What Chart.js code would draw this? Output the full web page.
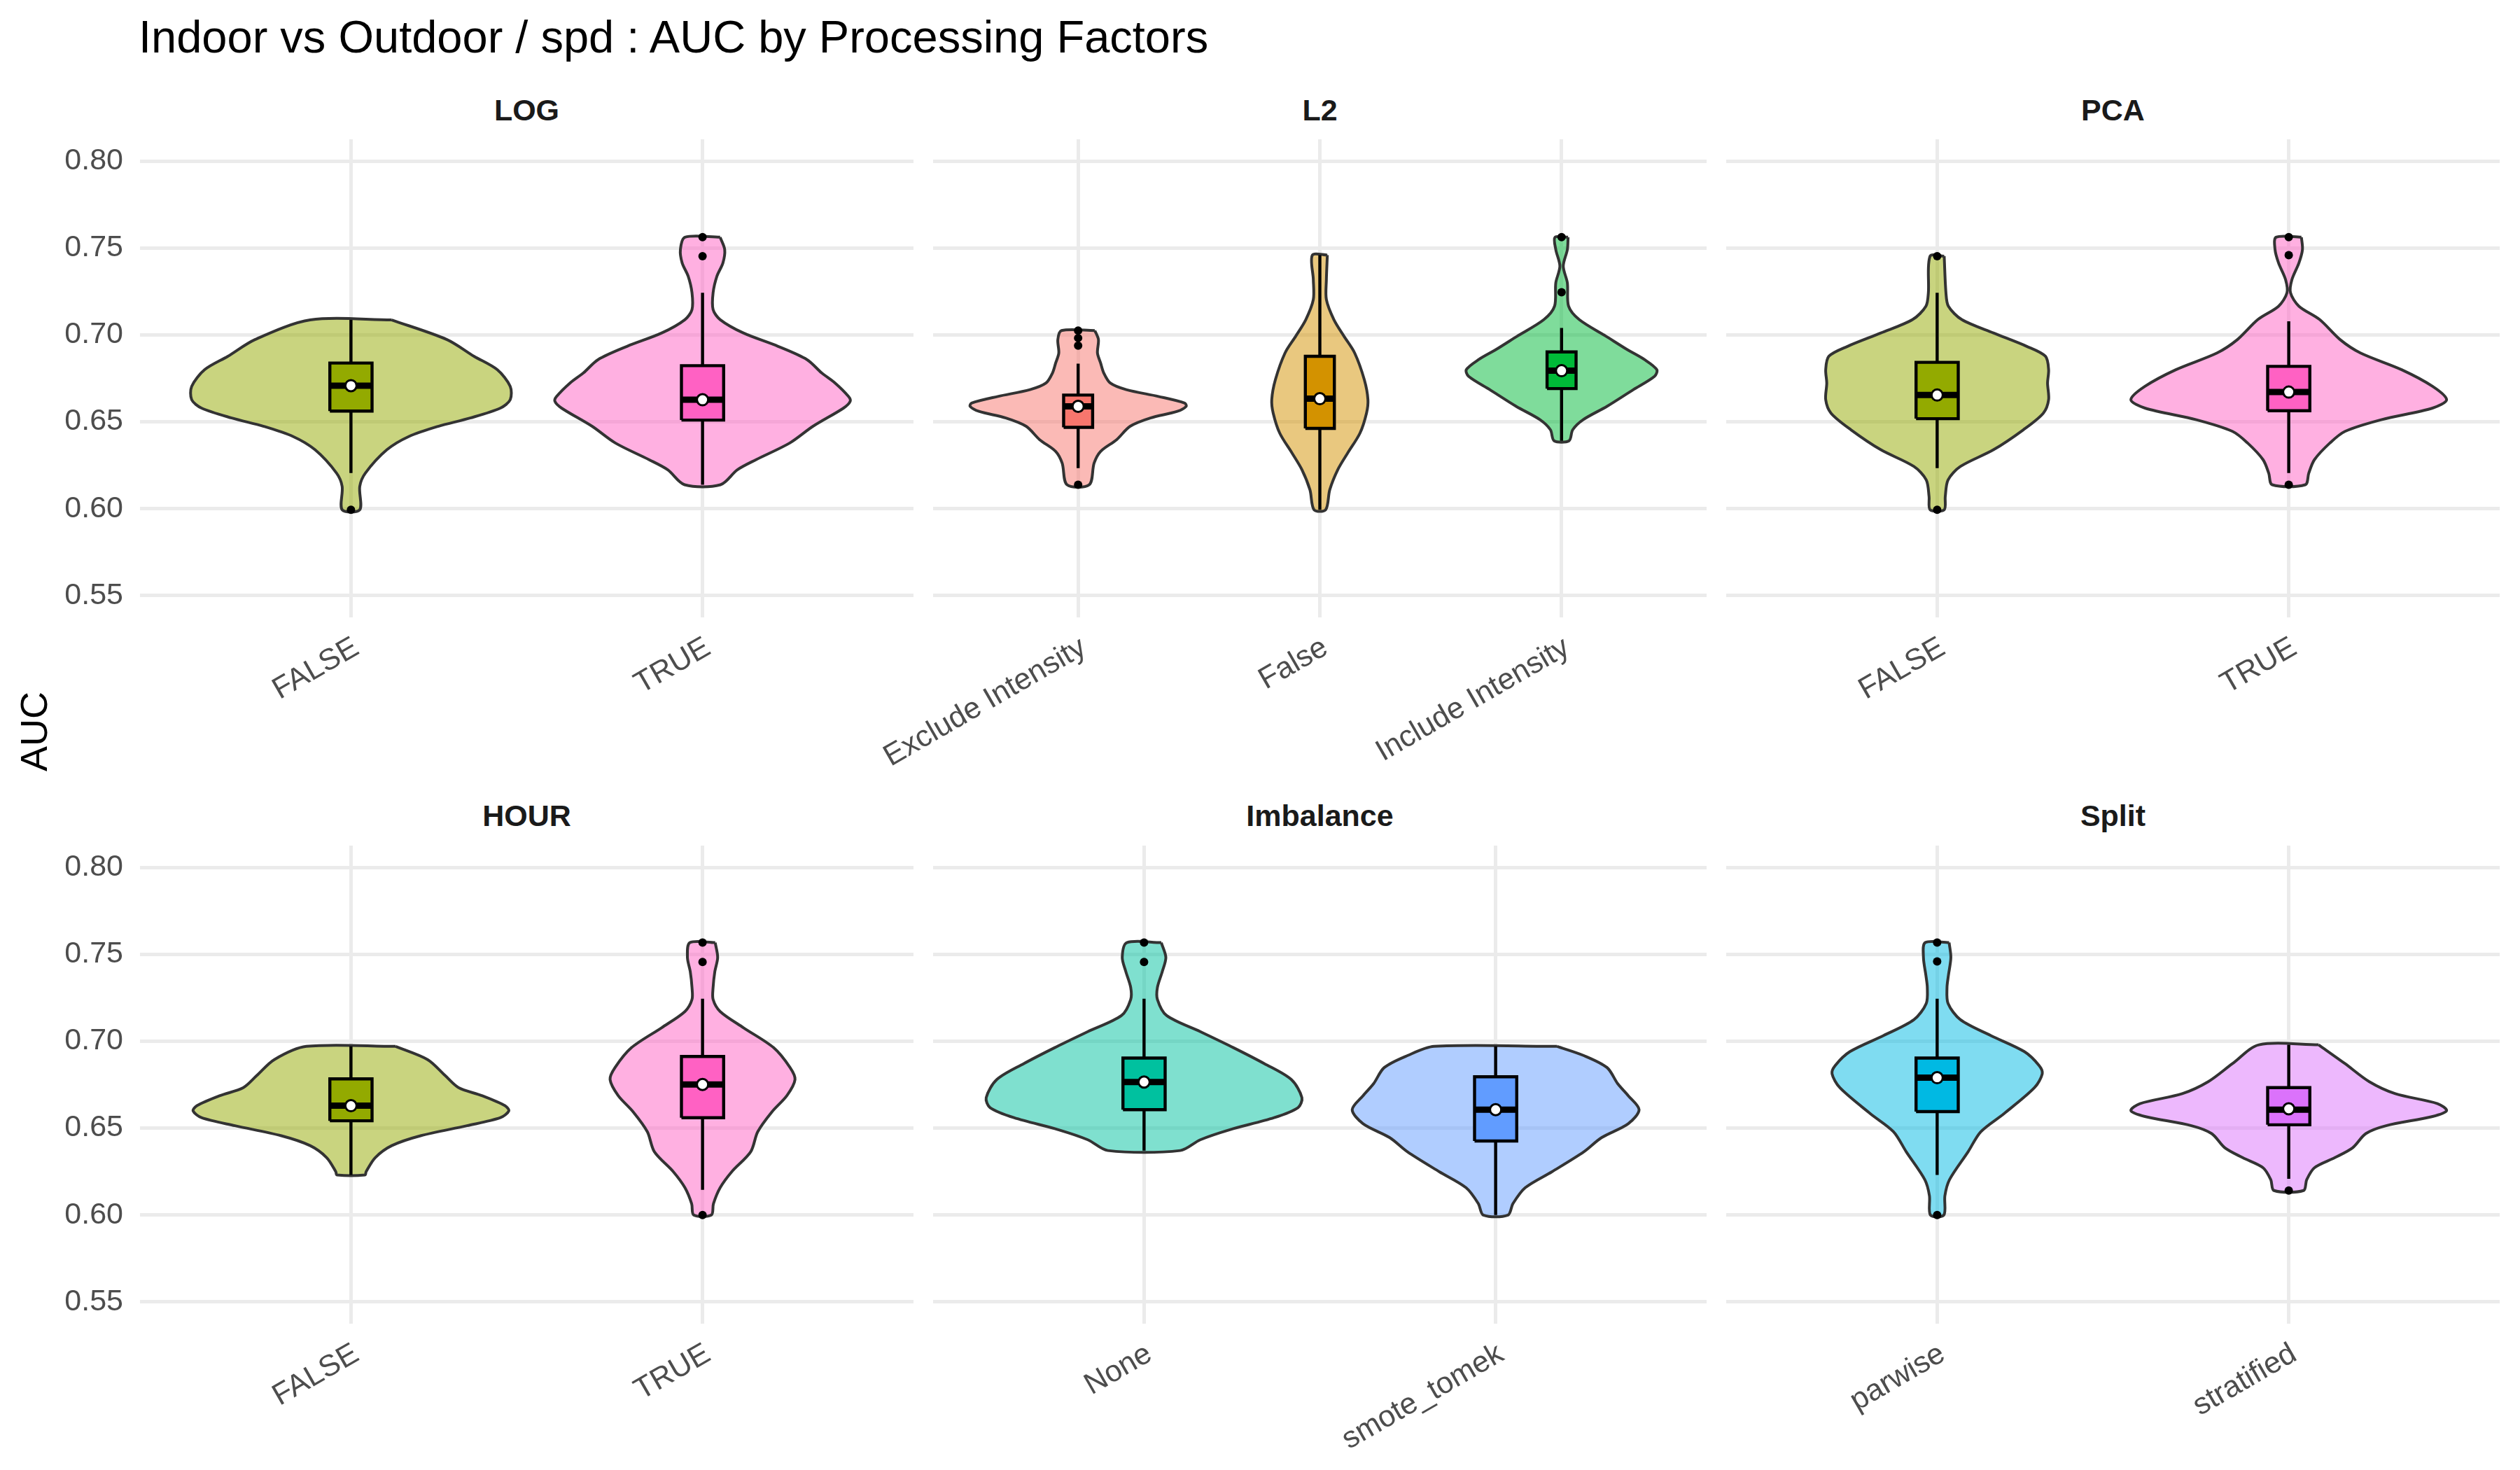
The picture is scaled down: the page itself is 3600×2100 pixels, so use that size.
<!DOCTYPE html>
<html>
<head>
<meta charset="utf-8">
<script src="https://cdn.jsdelivr.net/npm/chart.js@4.4.1/dist/chart.umd.min.js"></script>
<style>
html, body { margin: 0; padding: 0; background: #ffffff; }
body { width: 3600px; height: 2100px; position: relative; overflow: hidden;
       font-family: "Liberation Sans", Arial, Helvetica, sans-serif; }
canvas { position: absolute; }
.title { position: absolute; left: 198px; top: 20px; font-size: 65px; line-height: 65px;
         color: #000000; white-space: nowrap; z-index: 5; }
.strip { position: absolute; font-size: 43px; line-height: 43px; font-weight: bold;
         color: #1A1A1A; text-align: center; white-space: nowrap; width: 600px; z-index: 5; }
.ylab { position: absolute; font-size: 54px; line-height: 54px; color: #000000;
        white-space: nowrap; width: 200px; text-align: center; z-index: 5;
        transform: rotate(-90deg); transform-origin: 50% 50%; }
</style>
</head>
<body>
<div class="title">Indoor vs Outdoor / spd : AUC by Processing Factors</div>
<div class="ylab" id="ylab">AUC</div>
<script>
// ---------------- DATA ----------------
const FACETS = ['LOG', 'L2', 'PCA', 'HOUR', 'Imbalance', 'Split'];
const FACET_LEVELS = [
  ['FALSE', 'TRUE'],
  ['Exclude Intensity', 'False', 'Include Intensity'],
  ['FALSE', 'TRUE'],
  ['FALSE', 'TRUE'],
  ['None', 'smote_tomek'],
  ['parwise', 'stratified']
];
const LEVEL_NAMES  = ['Exclude Intensity', 'False', 'FALSE', 'Include Intensity', 'None', 'parwise', 'smote_tomek', 'stratified', 'TRUE'];
const LEVEL_COLORS = ['#F8766D', '#D39200', '#93AA00', '#00BA38', '#00C19F', '#00B9E3', '#619CFF', '#DB72FB', '#FF61C3'];
const Y_TICKS = [0.55, 0.60, 0.65, 0.70, 0.75, 0.80];
const Y_TICK_LABELS = ['0.55', '0.60', '0.65', '0.70', '0.75', '0.80'];

// box-plot statistics per facet (in level order)
const WHISKER_LOW  = [[0.6205, 0.6138], [0.6234, 0.5994, 0.6391], [0.6234, 0.6205], [0.6231, 0.6145], [0.6371, 0.6000], [0.6231, 0.6208]];
const Q1           = [[0.6562, 0.6510], [0.6468, 0.6462, 0.6691], [0.6518, 0.6564], [0.6542, 0.6560], [0.6606, 0.6426], [0.6595, 0.6519]];
const MEDIAN       = [[0.6708, 0.6627], [0.6589, 0.6633, 0.6794], [0.6654, 0.6671], [0.6629, 0.6751], [0.6765, 0.6606], [0.6790, 0.6606]];
const Q3           = [[0.6838, 0.6823], [0.6654, 0.6877, 0.6902], [0.6842, 0.6819], [0.6783, 0.6912], [0.6903, 0.6795], [0.6903, 0.6733]];
const WHISKER_HIGH = [[0.7086, 0.7242], [0.6835, 0.7459, 0.7040], [0.7242, 0.7078], [0.6970, 0.7244], [0.7244, 0.6970], [0.7244, 0.6979]];
const MEAN         = [[0.6708, 0.6627], [0.6589, 0.6633, 0.6794], [0.6654, 0.6671], [0.6629, 0.6751], [0.6765, 0.6606], [0.6790, 0.6611]];
const OUTLIERS = [
  [[0.5994], [0.7562, 0.7453]],
  [[0.7025, 0.6982, 0.6938, 0.6138], [], [0.7562, 0.7245]],
  [[0.7453, 0.5994], [0.7562, 0.7459, 0.6138]],
  [[], [0.7567, 0.7456, 0.6000]],
  [[0.7567, 0.7456], []],
  [[0.7567, 0.7459, 0.6000], [0.6141]]
];

// violin outlines: [AUC, half-width in category units], top to bottom
const VIOLIN_LOG_FALSE = [[0.7086,0.116],[0.6973,0.273],[0.6877,0.350],[0.6800,0.416],[0.6704,0.453],[0.6627,0.453],[0.6579,0.425],[0.6522,0.339],[0.6474,0.248],[0.6416,0.165],[0.6339,0.102],[0.6205,0.041],[0.6128,0.025],[0.5994,0.025]];
const VIOLIN_LOG_TRUE = [[0.7562,0.050],[0.7491,0.063],[0.7414,0.058],[0.7338,0.041],[0.7242,0.030],[0.7146,0.030],[0.7088,0.050],[0.7011,0.116],[0.6934,0.215],[0.6858,0.297],[0.6781,0.339],[0.6723,0.377],[0.6646,0.415],[0.6618,0.420],[0.6579,0.401],[0.6474,0.314],[0.6378,0.248],[0.6282,0.152],[0.6224,0.099],[0.6138,0.051]];
const VIOLIN_L2_EXCLUDE = [[0.7025,0.069],[0.6973,0.084],[0.6896,0.080],[0.6838,0.093],[0.6781,0.106],[0.6723,0.133],[0.6685,0.199],[0.6646,0.332],[0.6608,0.441],[0.6589,0.447],[0.6560,0.410],[0.6522,0.299],[0.6474,0.215],[0.6397,0.159],[0.6330,0.093],[0.6262,0.066],[0.6138,0.046]];
const VIOLIN_L2_FALSE = [[0.7459,0.031],[0.7318,0.027],[0.7203,0.027],[0.7088,0.058],[0.6992,0.100],[0.6896,0.144],[0.6742,0.184],[0.6627,0.199],[0.6550,0.193],[0.6435,0.166],[0.6320,0.115],[0.6224,0.074],[0.6109,0.041],[0.5994,0.024]];
const VIOLIN_L2_INCLUDE = [[0.7562,0.027],[0.7491,0.024],[0.7395,0.007],[0.7299,0.024],[0.7165,0.029],[0.7088,0.073],[0.6992,0.184],[0.6915,0.272],[0.6858,0.343],[0.6800,0.394],[0.6762,0.385],[0.6685,0.297],[0.6589,0.188],[0.6512,0.089],[0.6454,0.046],[0.6391,0.031]];
const VIOLIN_PCA_FALSE = [[0.7453,0.020],[0.7242,0.025],[0.7165,0.032],[0.7088,0.070],[0.7011,0.160],[0.6934,0.255],[0.6877,0.308],[0.6800,0.317],[0.6723,0.314],[0.6627,0.317],[0.6550,0.302],[0.6454,0.245],[0.6339,0.160],[0.6243,0.066],[0.6166,0.031],[0.6070,0.023],[0.5994,0.020]];
const VIOLIN_PCA_TRUE = [[0.7562,0.036],[0.7491,0.039],[0.7414,0.029],[0.7318,0.009],[0.7242,0.005],[0.7165,0.029],[0.7088,0.088],[0.6973,0.146],[0.6896,0.204],[0.6800,0.321],[0.6704,0.409],[0.6627,0.449],[0.6579,0.409],[0.6512,0.263],[0.6445,0.160],[0.6378,0.117],[0.6282,0.073],[0.6205,0.057],[0.6138,0.047]];
const VIOLIN_HOUR_FALSE = [[0.6970,0.127],[0.6894,0.218],[0.6802,0.268],[0.6733,0.306],[0.6687,0.372],[0.6629,0.438],[0.6599,0.449],[0.6560,0.425],[0.6514,0.330],[0.6456,0.198],[0.6399,0.116],[0.6330,0.069],[0.6249,0.043],[0.6231,0.040]];
const VIOLIN_HOUR_TRUE = [[0.7567,0.036],[0.7482,0.043],[0.7401,0.035],[0.7309,0.030],[0.7240,0.030],[0.7171,0.050],[0.7078,0.116],[0.6963,0.202],[0.6848,0.249],[0.6779,0.263],[0.6687,0.240],[0.6595,0.198],[0.6479,0.157],[0.6364,0.137],[0.6249,0.083],[0.6157,0.050],[0.6065,0.031],[0.6000,0.025]];
const VIOLIN_IMB_NONE = [[0.7567,0.049],[0.7482,0.062],[0.7401,0.052],[0.7309,0.038],[0.7240,0.038],[0.7148,0.064],[0.7055,0.160],[0.6963,0.254],[0.6871,0.342],[0.6779,0.419],[0.6675,0.449],[0.6618,0.438],[0.6560,0.370],[0.6491,0.244],[0.6433,0.160],[0.6371,0.103]];
const VIOLIN_IMB_SMOTE = [[0.6970,0.175],[0.6917,0.251],[0.6848,0.317],[0.6756,0.347],[0.6687,0.377],[0.6606,0.408],[0.6525,0.377],[0.6445,0.301],[0.6364,0.251],[0.6249,0.160],[0.6157,0.084],[0.6065,0.049],[0.6000,0.035]];
const VIOLIN_SPLIT_PARWISE = [[0.7567,0.034],[0.7482,0.039],[0.7378,0.032],[0.7309,0.028],[0.7217,0.031],[0.7124,0.066],[0.7032,0.153],[0.6940,0.248],[0.6860,0.290],[0.6813,0.299],[0.6733,0.277],[0.6583,0.190],[0.6479,0.124],[0.6364,0.088],[0.6203,0.035],[0.6111,0.022],[0.6000,0.019]];
const VIOLIN_SPLIT_STRATIFIED = [[0.6979,0.085],[0.6871,0.160],[0.6767,0.229],[0.6698,0.303],[0.6641,0.423],[0.6601,0.449],[0.6567,0.409],[0.6514,0.277],[0.6468,0.219],[0.6387,0.182],[0.6330,0.131],[0.6272,0.073],[0.6203,0.051],[0.6141,0.042]];

const VIOLINS = [
  [VIOLIN_LOG_FALSE, VIOLIN_LOG_TRUE],
  [VIOLIN_L2_EXCLUDE, VIOLIN_L2_FALSE, VIOLIN_L2_INCLUDE],
  [VIOLIN_PCA_FALSE, VIOLIN_PCA_TRUE],
  [VIOLIN_HOUR_FALSE, VIOLIN_HOUR_TRUE],
  [VIOLIN_IMB_NONE, VIOLIN_IMB_SMOTE],
  [VIOLIN_SPLIT_PARWISE, VIOLIN_SPLIT_STRATIFIED]
];

// ---------------- LAYOUT / STYLE ----------------
const FONT = '"Liberation Sans", Arial, Helvetica, sans-serif';
const PANEL_X = [200, 1333, 2466];
const PANEL_W = 1105;
const ROW_TOP = [198, 1207];
const PANEL_H = 684;
const AXIS_W = 200;
const PAD_TOP = 10;
const PAD_RIGHT = 20;
const X_AXIS_H = [218, 209];
const Y_MIN = 0.5375, Y_MAX = 0.8125;
const BOX_HALF = 0.06;
const STRIP_BASELINE = [172, 1180];

function withAlpha(hex, a) {
  const r = parseInt(hex.slice(1, 3), 16), g = parseInt(hex.slice(3, 5), 16), b = parseInt(hex.slice(5, 7), 16);
  return 'rgba(' + r + ',' + g + ',' + b + ',' + a + ')';
}

function buildDatasets(fi) {
  const ds = [];
  FACET_LEVELS[fi].forEach((lvl, i) => {
    const c = i + 1;
    const color = LEVEL_COLORS[LEVEL_NAMES.indexOf(lvl)];
    const prof = VIOLINS[fi][i];
    const rightSide = prof.map(p => ({ x: c + p[1], y: p[0] }));
    const leftSide = prof.slice().reverse().map(p => ({ x: c - p[1], y: p[0] }));
    const poly = rightSide.concat(leftSide);
    poly.push(rightSide[0]);
    ds.push({ data: poly, fill: 'shape', backgroundColor: withAlpha(color, 0.5),
      borderColor: '#333333', borderWidth: 4, pointRadius: 0, tension: 0.3, order: 10 });
    // whiskers
    ds.push({ data: [{ x: c, y: WHISKER_HIGH[fi][i] }, { x: c, y: Q3[fi][i] }],
      borderColor: '#000000', borderWidth: 4.4, pointRadius: 0, fill: false, order: 8 });
    ds.push({ data: [{ x: c, y: Q1[fi][i] }, { x: c, y: WHISKER_LOW[fi][i] }],
      borderColor: '#000000', borderWidth: 4.4, pointRadius: 0, fill: false, order: 8 });
    // box
    ds.push({ data: [
        { x: c - BOX_HALF, y: Q1[fi][i] }, { x: c + BOX_HALF, y: Q1[fi][i] },
        { x: c + BOX_HALF, y: Q3[fi][i] }, { x: c - BOX_HALF, y: Q3[fi][i] },
        { x: c - BOX_HALF, y: Q1[fi][i] }],
      fill: 'shape', backgroundColor: color, borderColor: '#000000', borderWidth: 4.4,
      borderJoinStyle: 'miter', pointRadius: 0, tension: 0, order: 7 });
    // median
    ds.push({ data: [{ x: c - BOX_HALF, y: MEDIAN[fi][i] }, { x: c + BOX_HALF, y: MEDIAN[fi][i] }],
      borderColor: '#000000', borderWidth: 9, borderCapStyle: 'butt', pointRadius: 0, fill: false, order: 6 });
    // outliers
    ds.push({ data: OUTLIERS[fi][i].map(v => ({ x: c, y: v })), showLine: false,
      pointRadius: 6, pointBackgroundColor: '#000000', pointBorderWidth: 0, order: 5 });
    // mean
    ds.push({ data: [{ x: c, y: MEAN[fi][i] }], showLine: false,
      pointRadius: 8, pointBackgroundColor: '#FFFFFF', pointBorderColor: '#000000', pointBorderWidth: 3, order: 4 });
  });
  return ds;
}

function makeChart(fi) {
  const col = fi % 3, row = Math.floor(fi / 3);
  const levels = FACET_LEVELS[fi];
  const n = levels.length;
  const canvas = document.createElement('canvas');
  const left = PANEL_X[col] - AXIS_W;
  const top = ROW_TOP[row] - PAD_TOP;
  const width = AXIS_W + PANEL_W + PAD_RIGHT;
  const height = PAD_TOP + PANEL_H + X_AXIS_H[row];
  canvas.width = width; canvas.height = height;
  canvas.style.left = left + 'px'; canvas.style.top = top + 'px';
  canvas.style.width = width + 'px'; canvas.style.height = height + 'px';
  document.body.appendChild(canvas);

  // strip label
  const strip = document.createElement('div');
  strip.className = 'strip';
  strip.textContent = FACETS[fi];
  strip.style.left = (PANEL_X[col] + PANEL_W / 2 - 300) + 'px';
  strip.style.top = (STRIP_BASELINE[row] - 36.4) + 'px';
  document.body.appendChild(strip);

  new Chart(canvas, {
    type: 'line',
    data: { datasets: buildDatasets(fi) },
    options: {
      responsive: false, animation: false, devicePixelRatio: 1,
      layout: { padding: { left: 0, right: PAD_RIGHT, top: PAD_TOP, bottom: 0 } },
      plugins: { legend: { display: false }, tooltip: { enabled: false }, title: { display: false } },
      scales: {
        x: {
          type: 'linear', min: 0.4, max: n + 0.6,
          afterBuildTicks: s => { s.ticks = levels.map((l, i) => ({ value: i + 1 })); },
          afterFit: s => { s.height = X_AXIS_H[row]; s.paddingLeft = 0; s.paddingRight = 0; },
          ticks: { autoSkip: false, minRotation: 30, maxRotation: 30, padding: 18, labelOffset: 8,
                   color: '#4D4D4D', font: { family: FONT, size: 43 },
                   callback: (v, i) => levels[i] },
          grid: { color: '#EBEBEB', lineWidth: 5, drawTicks: false },
          border: { display: false }
        },
        y: {
          type: 'linear', min: Y_MIN, max: Y_MAX,
          afterBuildTicks: s => { s.ticks = Y_TICKS.map(v => ({ value: v })); },
          afterFit: s => { s.width = AXIS_W; s.paddingTop = 0; s.paddingBottom = 0; },
          ticks: { display: col === 0, padding: 24, color: '#4D4D4D', font: { family: FONT, size: 43 },
                   callback: (v, i) => Y_TICK_LABELS[i] },
          grid: { color: '#EBEBEB', lineWidth: 5, drawTicks: false },
          border: { display: false }
        }
      }
    }
  });
}

FACETS.forEach((f, i) => makeChart(i));

const ylab = document.getElementById('ylab');
ylab.style.left = (48 - 100) + 'px';
ylab.style.top = (1045 - 27) + 'px';
</script>
</body>
</html>
